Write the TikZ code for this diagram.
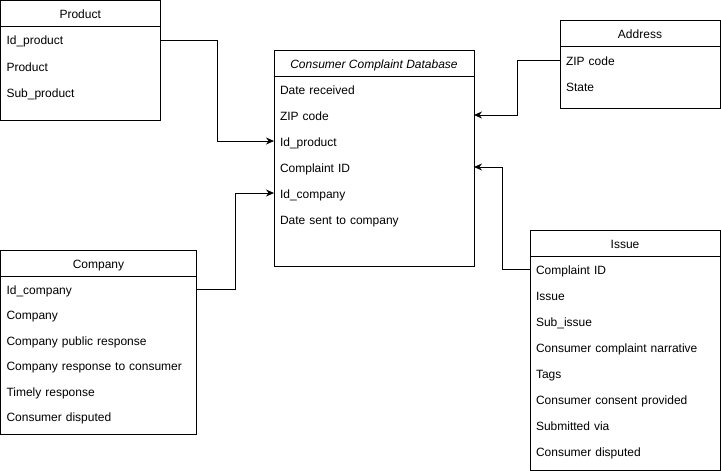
\documentclass[tikz,border=0pt]{standalone}
\usepackage{fontspec}
\setmainfont{Liberation Sans}
\usetikzlibrary{arrows.meta}
\tikzset{
  tbl/.style={draw, line width=1pt, anchor=north west, inner sep=0pt, outer sep=0pt},
  hdr/.style={anchor=north, inner sep=0pt, outer sep=0pt, minimum height=26pt, text height=10pt, text depth=0pt, font=\fontsize{12}{14}\selectfont},
  fld/.style={anchor=west, inner xsep=6pt, inner ysep=0pt, outer sep=0pt, minimum height=26pt, text height=10pt, text depth=0pt, align=left, font=\fontsize{12}{14}\selectfont},
  link/.style={line width=1pt, -{Stealth[length=8pt,width=7pt]}}
}
\begin{document}
\begin{tikzpicture}[x=1pt,y=-1pt]
      \useasboundingbox (0,0) rectangle (721,471);
      % Product
      \node[tbl, minimum width=159.5pt, minimum height=119.5pt] (product) at (0.5,0.5) {};
      \node[hdr, minimum width=159.5pt] (product-h) at (product.north) {Product};
      \draw[line width=1pt] (product-h.south west) -- (product-h.south east);
      \foreach \t [count=\i] in {Id\_product, Product, Sub\_product}
        \node[fld, text width=147.5pt] (product-\i) at (0.5,{26+14+26*(\i-1)}) {\t};
      % Consumer Complaint Database
      \node[tbl, minimum width=200pt, minimum height=216pt] (ccd) at (274,50) {};
      \node[hdr, minimum width=200pt, font=\fontsize{12}{14}\selectfont\itshape] (ccd-h) at (ccd.north) {Consumer Complaint Database};
      \draw[line width=1pt] (ccd-h.south west) -- (ccd-h.south east);
      \foreach \t [count=\i] in {Date received, ZIP code, Id\_product, Complaint ID, Id\_company, Date sent to company}
        \node[fld, text width=188pt] (ccd-\i) at (274,{76+13+26*(\i-1)}) {\t};
      % Address
      \node[tbl, minimum width=160pt, minimum height=88pt] (address) at (560,20.5) {};
      \node[hdr, minimum width=160pt] (address-h) at (address.north) {Address};
      \draw[line width=1pt] (address-h.south west) -- (address-h.south east);
      \foreach \t [count=\i] in {ZIP code, State}
        \node[fld, text width=148pt] (address-\i) at (560,{46.5+13.5+26*(\i-1)}) {\t};
      % Company
      \node[tbl, minimum width=196pt, minimum height=184pt] (company) at (0.5,250) {};
      \node[hdr, minimum width=196pt] (company-h) at (company.north) {Company};
      \draw[line width=1pt] (company-h.south west) -- (company-h.south east);
      \foreach \t [count=\i] in {Id\_company, Company, Company public response, Company response to consumer, Timely response, Consumer disputed}
        \node[fld, text width=184pt] (company-\i) at (0.5,{276+13+25.5*(\i-1)}) {\t};
      % Issue
      \node[tbl, minimum width=190pt, minimum height=240pt] (issue) at (530,230) {};
      \node[hdr, minimum width=190pt] (issue-h) at (issue.north) {Issue};
      \draw[line width=1pt] (issue-h.south west) -- (issue-h.south east);
      \foreach \t [count=\i] in {Complaint ID, Issue, Sub\_issue, Consumer complaint narrative, Tags, Consumer consent provided, Submitted via, Consumer disputed}
        \node[fld, text width=178pt] (issue-\i) at (530,{256+13+26*(\i-1)}) {\t};
      % links
      \draw[link] (product-1.east) -- ++(57,0) |- (ccd-3.west);
      \draw[link] (company-1.east) -- ++(39,0) |- (ccd-5.west);
      \draw[link] (address-1.west) -- ++(-43,0) |- (ccd-2.east);
      \draw[link] (issue-1.west) -- ++(-28,0) |- (ccd-4.east);
\end{tikzpicture}
\end{document}
